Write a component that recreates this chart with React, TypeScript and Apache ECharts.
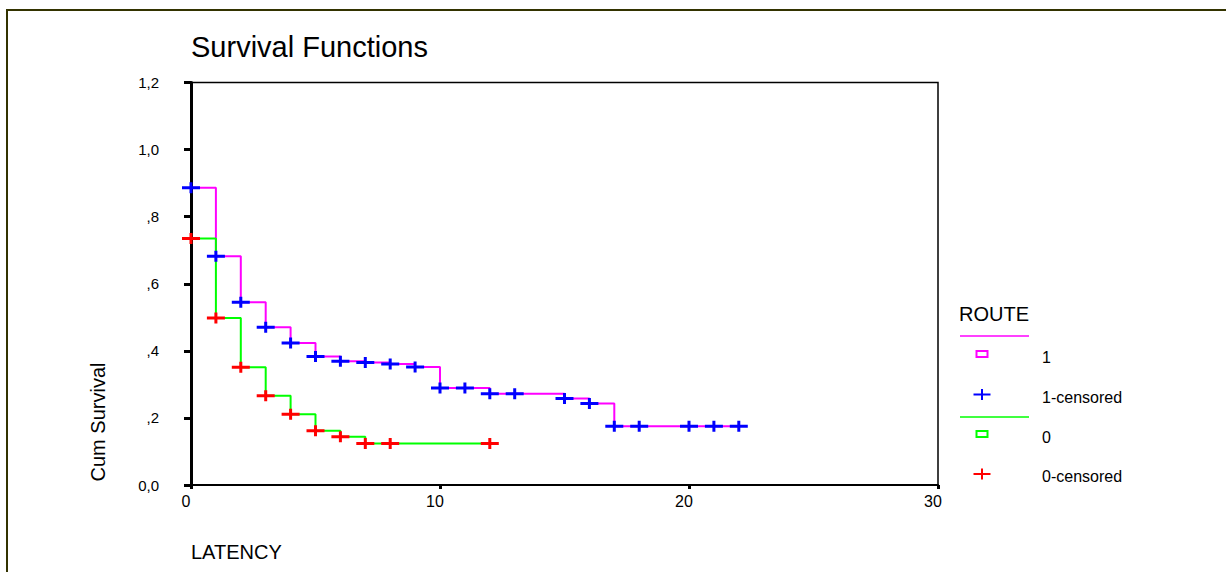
import React, { useEffect, useRef } from "react";
import * as echarts from "echarts";

// ROUTE = 1 : step function of cumulative survival
const route1StepTimes = [0, 0, 1, 2, 3, 4, 5, 6, 7, 8, 9, 10, 12, 15, 16, 17, 22];
const route1StepSurvival = [1.0, 0.886, 0.682, 0.545, 0.47, 0.423, 0.383, 0.369, 0.365, 0.361, 0.352, 0.289, 0.272, 0.258, 0.243, 0.175, 0.175];
// ROUTE = 1 : censored observations
const route1CensTimes = [0, 1, 2, 3, 4, 5, 6, 7, 8, 9, 10, 11, 12, 13, 15, 16, 17, 18, 20, 21, 22];
const route1CensSurvival = [0.886, 0.682, 0.545, 0.47, 0.423, 0.383, 0.369, 0.365, 0.361, 0.352, 0.289, 0.289, 0.272, 0.272, 0.258, 0.243, 0.175, 0.175, 0.175, 0.175, 0.175];

// ROUTE = 0 : step function
const route0StepTimes = [0, 0, 1, 2, 3, 4, 5, 6, 7, 12];
const route0StepSurvival = [1.0, 0.735, 0.498, 0.351, 0.266, 0.211, 0.162, 0.144, 0.124, 0.124];
// ROUTE = 0 : censored observations
const route0CensTimes = [0, 1, 2, 3, 4, 5, 6, 7, 8, 12];
const route0CensSurvival = [0.735, 0.498, 0.351, 0.266, 0.211, 0.162, 0.144, 0.124, 0.124, 0.124];

const xTicks = { min: 0, max: 30, interval: 10 };
const yTicks = { min: 0, max: 1.2, interval: 0.2 };

const legendItems = ["1", "1-censored", "0", "0-censored"];

const FONT = '"Liberation Sans", Arial, sans-serif';
const PINK = "#ff00ff";
const BLUE = "#0000ff";
const GREEN = "#00ff00";
const RED = "#ff0000";
const PLUS = "path://M0,4L18,4L18,7L0,7Z M7.5,0L10.5,0L10.5,11L7.5,11Z";

const zip = (a: number[], b: number[]) => a.map((v, i) => [v, b[i]]);

const fmtY = (v: number) => {
  const s = v.toFixed(1).replace(".", ",");
  if (v === 0) return "0,0";
  return v < 1 ? s.slice(1) : s;
};

export default function App() {
  const ref = useRef<HTMLDivElement>(null);
  useEffect(() => {
    if (!ref.current) return;
    const chart = echarts.init(ref.current, null, { renderer: "svg" });
    const txt = (text: string, x: number, y: number, size: number, extra: any = {}) => ({
      type: "text",
      x,
      y,
      silent: true,
      ...extra,
      style: { text, fontSize: size, fontFamily: FONT, fill: "#000", align: "left", verticalAlign: "middle", ...(extra.style || {}) },
    });
    const plusMark = (cx: number, cy: number, color: string) => [
      { type: "line", shape: { x1: cx - 8.5, y1: cy, x2: cx + 8.5, y2: cy }, style: { stroke: color, lineWidth: 2 } },
      { type: "line", shape: { x1: cx, y1: cy - 5.5, x2: cx, y2: cy + 5.5 }, style: { stroke: color, lineWidth: 2 } },
    ];
    chart.setOption({
      animation: false,
      backgroundColor: "#ffffff",
      grid: { left: 191, top: 82.5, right: 288, bottom: 87, show: true, borderColor: "#000", borderWidth: 1.5, backgroundColor: "transparent" },
      xAxis: {
        type: "value",
        ...xTicks,
        splitLine: { show: false },
        axisLine: { show: true, onZero: false, lineStyle: { color: "#000", width: 2 } },
        axisTick: { show: true, length: 4, lineStyle: { color: "#000", width: 3 } },
        axisLabel: { color: "#000", fontSize: 16, fontFamily: FONT, margin: 8, padding: [0, 10, 0, 0] },
      },
      yAxis: {
        type: "value",
        ...yTicks,
        z: 2.5,
        splitLine: { show: false },
        axisLine: { show: true, onZero: false, lineStyle: { color: "#000", width: 3 } },
        axisTick: { show: true, length: 7, lineStyle: { color: "#000", width: 3 } },
        axisLabel: { color: "#000", fontSize: 15, fontFamily: FONT, margin: 32, formatter: fmtY },
      },
      series: [
        {
          name: "1",
          type: "line",
          step: "end",
          showSymbol: false,
          silent: true,
          data: zip(route1StepTimes, route1StepSurvival),
          lineStyle: { color: PINK, width: 2 },
          z: 2,
        },
        {
          name: "0",
          type: "line",
          step: "end",
          showSymbol: false,
          silent: true,
          data: zip(route0StepTimes, route0StepSurvival),
          lineStyle: { color: GREEN, width: 2 },
          z: 2,
        },
        {
          name: "1-censored",
          type: "scatter",
          symbol: PLUS,
          symbolSize: [18, 11],
          silent: true,
          data: zip(route1CensTimes, route1CensSurvival),
          itemStyle: { color: BLUE, opacity: 1 },
          z: 3,
        },
        {
          name: "0-censored",
          type: "scatter",
          symbol: PLUS,
          symbolSize: [18, 11],
          silent: true,
          data: zip(route0CensTimes, route0CensSurvival),
          itemStyle: { color: RED, opacity: 1 },
          z: 3,
        },
      ],
      graphic: [
        { type: "rect", silent: true, z: -10, shape: { x: 7, y: 10, width: 1400, height: 800 }, style: { fill: "none", stroke: "#333300", lineWidth: 2 } },
        txt("Survival Functions", 191, 46.5, 29),
        txt("LATENCY", 191, 552, 20),
        txt("Cum Survival", 98, 422, 20, { rotation: Math.PI / 2, style: { align: "center" } }),
        txt("ROUTE", 959, 313.5, 20),
        { type: "line", silent: true, shape: { x1: 960, y1: 336, x2: 1029, y2: 336 }, style: { stroke: PINK, lineWidth: 1.5 } },
        { type: "rect", silent: true, shape: { x: 976.5, y: 351, width: 11, height: 6 }, style: { fill: "#fff", stroke: PINK, lineWidth: 2 } },
        txt(legendItems[0], 1042, 357, 16),
        ...plusMark(982, 394.5, BLUE),
        txt(legendItems[1], 1042, 397, 16),
        { type: "line", silent: true, shape: { x1: 960, y1: 417, x2: 1029, y2: 417 }, style: { stroke: GREEN, lineWidth: 1.5 } },
        { type: "rect", silent: true, shape: { x: 976.5, y: 431, width: 11, height: 6 }, style: { fill: "#fff", stroke: GREEN, lineWidth: 2 } },
        txt(legendItems[2], 1042, 437, 16),
        ...plusMark(982, 474, RED),
        txt(legendItems[3], 1042, 476.5, 16),
      ],
    });
    return () => chart.dispose();
  }, []);
  return (
    <div
      ref={ref}
      style={{ position: "fixed", left: 0, top: 0, width: 1226, height: 572, background: "#fff" }}
    />
  );
}
